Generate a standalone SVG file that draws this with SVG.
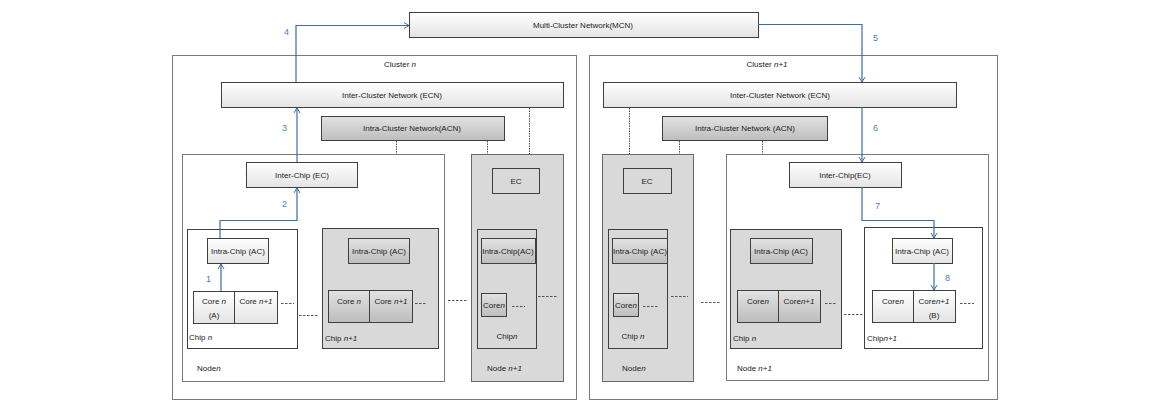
<svg xmlns="http://www.w3.org/2000/svg" width="1171" height="402" viewBox="0 0 1171 402">
<defs>
<linearGradient id="gw" x1="0" y1="0" x2="0" y2="1"><stop offset="0" stop-color="#ffffff"/><stop offset="1" stop-color="#e4e4e4"/></linearGradient>
<linearGradient id="gg" x1="0" y1="0" x2="0" y2="1"><stop offset="0" stop-color="#e2e2e2"/><stop offset="1" stop-color="#bdbdbd"/></linearGradient>
<marker id="ah" markerWidth="8" markerHeight="8" refX="6" refY="4" orient="auto" markerUnits="userSpaceOnUse"><path d="M1,1 L6,4 L1,7" fill="none" stroke="#3b6ea5" stroke-width="1"/></marker>
<style>
text{font-family:"Liberation Sans",Arial,sans-serif;font-size:8px;fill:#222}
.c{text-anchor:middle}
.i{font-style:italic}
.box{stroke:#3f3f3f;stroke-width:1}
.w{fill:url(#gw)}
.g{fill:url(#gg)}
.frame{fill:#fff;stroke:#7a7a7a;stroke-width:1}
.gnode{fill:#d9d9d9;stroke:#6a6a6a;stroke-width:1}
.chipw{fill:#fff;stroke:#3f3f3f;stroke-width:1}
.chipg{fill:#d9d9d9;stroke:#3f3f3f;stroke-width:1}
.dash{stroke:#555;stroke-width:1;stroke-dasharray:2.5,1.5;fill:none}
.vd{stroke:#555;stroke-width:1;stroke-dasharray:1.5,1;fill:none}
.arr{stroke:#3b6ea5;stroke-width:1.2;fill:none;marker-end:url(#ah)}
.num{fill:#4a7ebb;font-size:9px}
</style>
</defs>
<rect width="1171" height="402" fill="#fff"/>

<g id="clusterN">
<rect class="frame" x="172.5" y="55.5" width="404" height="344"/>
<text class="c" x="400" y="67">Cluster <tspan class="i">n</tspan></text>
</g>
<g id="clusterN1">
<rect class="frame" x="589.5" y="55.5" width="408" height="344"/>
<text class="c" x="767" y="67">Cluster <tspan class="i">n+1</tspan></text>
</g>

<g id="mcn">
<rect class="box w" x="409.5" y="12.5" width="349" height="25"/>
<text class="c" x="583" y="28">Multi-Cluster Network(MCN)</text>
</g>

<g id="ecnN">
<rect class="box w" x="221.5" y="82.5" width="342" height="25"/>
<text class="c" x="392" y="98">Inter-Cluster Network (ECN)</text>
</g>
<g id="acnN">
<rect class="box g" x="321.5" y="116.5" width="183" height="24"/>
<text class="c" x="412" y="131">Intra-Cluster Network(ACN)</text>
</g>
<g id="ecnN1">
<rect class="box w" x="603.5" y="82.5" width="353" height="25"/>
<text class="c" x="780" y="98">Inter-Cluster Network (ECN)</text>
</g>
<g id="acnN1">
<rect class="box g" x="662.5" y="116.5" width="165" height="24"/>
<text class="c" x="745" y="131">Intra-Cluster Network (ACN)</text>
</g>

<!-- Cluster n, Node n -->
<g id="c1-nodeN">
<rect class="frame" x="182.5" y="154.5" width="262" height="227"/>
<text x="197" y="371">Node<tspan class="i">n</tspan></text>
<rect class="box w" x="246.5" y="162.5" width="111" height="25"/>
<text class="c" x="302" y="178">Inter-Chip (EC)</text>
</g>
<g id="c1-nodeN-chipN">
<rect class="chipw" x="187.5" y="229.5" width="110" height="119"/>
<rect class="box w" x="207.5" y="238.5" width="61" height="25"/>
<text class="c" x="238" y="254">Intra-Chip (AC)</text>
<rect class="box w" x="193.5" y="291.5" width="41" height="32"/>
<rect class="box w" x="234.5" y="291.5" width="43" height="32"/>
<text class="c" x="214" y="304">Core <tspan class="i">n</tspan></text>
<text class="c" x="214" y="318">(A)</text>
<text class="c" x="256" y="304">Core <tspan class="i">n+1</tspan></text>
<text x="189" y="340">Chip <tspan class="i">n</tspan></text>
</g>
<g id="c1-nodeN-chipN1">
<rect class="chipg" x="322.5" y="228.5" width="116" height="120"/>
<rect class="box g" x="348.5" y="238.5" width="61" height="25"/>
<text class="c" x="379" y="254">Intra-Chip (AC)</text>
<rect class="box g" x="328.5" y="290.5" width="41" height="32"/>
<rect class="box g" x="369.5" y="290.5" width="43" height="32"/>
<text class="c" x="349" y="304">Core <tspan class="i">n</tspan></text>
<text class="c" x="391" y="304">Core <tspan class="i">n+1</tspan></text>
<text x="325" y="341">Chip <tspan class="i">n+1</tspan></text>
</g>

<!-- Cluster n, Node n+1 -->
<g id="c1-nodeN1">
<rect class="gnode" x="471.5" y="154.5" width="92" height="227"/>
<text x="487" y="371">Node <tspan class="i">n+1</tspan></text>
<rect class="box" fill="#d9d9d9" x="492.5" y="168.5" width="47" height="25"/>
<text class="c" x="516" y="184">EC</text>
<rect class="chipg" x="477.5" y="229.5" width="59" height="119"/>
<rect class="box g" x="481.5" y="238.5" width="54" height="25"/>
<text class="c" x="508" y="254">Intra-Chip(AC)</text>
<rect class="box g" x="481.5" y="293.5" width="25" height="23"/>
<text class="c" x="494" y="308">Core<tspan class="i">n</tspan></text>
<text class="c" x="507" y="339">Chip<tspan class="i">n</tspan></text>
</g>

<!-- Cluster n+1, Node n -->
<g id="c2-nodeN">
<rect class="gnode" x="602.5" y="154.5" width="91" height="227"/>
<text x="622" y="371">Node<tspan class="i">n</tspan></text>
<rect class="box" fill="#d9d9d9" x="623.5" y="168.5" width="48" height="25"/>
<text class="c" x="647" y="184">EC</text>
<rect class="chipg" x="608.5" y="229.5" width="59" height="119"/>
<rect class="box g" x="612.5" y="238.5" width="55" height="25"/>
<text class="c" x="640" y="254">Intra-Chip (AC)</text>
<rect class="box g" x="613.5" y="293.5" width="25" height="23"/>
<text class="c" x="626" y="308">Core<tspan class="i">n</tspan></text>
<text class="c" x="633" y="339">Chip <tspan class="i">n</tspan></text>
</g>

<!-- Cluster n+1, Node n+1 -->
<g id="c2-nodeN1">
<rect class="frame" x="726.5" y="154.5" width="262" height="226"/>
<text x="737" y="371">Node <tspan class="i">n+1</tspan></text>
<rect class="box w" x="789.5" y="162.5" width="112" height="25"/>
<text class="c" x="845" y="178">Inter-Chip(EC)</text>
</g>
<g id="c2-nodeN1-chipN">
<rect class="chipg" x="730.5" y="229.5" width="111" height="119"/>
<rect class="box g" x="750.5" y="238.5" width="62" height="25"/>
<text class="c" x="781" y="254">Intra-Chip (AC)</text>
<rect class="box g" x="737.5" y="290.5" width="41" height="32"/>
<rect class="box g" x="778.5" y="290.5" width="42" height="32"/>
<text class="c" x="758" y="304">Core<tspan class="i">n</tspan></text>
<text class="c" x="799" y="304">Core<tspan class="i">n+1</tspan></text>
<text x="733" y="341">Chip <tspan class="i">n</tspan></text>
</g>
<g id="c2-nodeN1-chipN1">
<rect class="chipw" x="864.5" y="227.5" width="118" height="121"/>
<rect class="box w" x="892.5" y="238.5" width="60" height="25"/>
<text class="c" x="922" y="254">Intra-Chip (AC)</text>
<rect class="box w" x="872.5" y="290.5" width="41" height="32"/>
<rect class="box w" x="913.5" y="290.5" width="42" height="32"/>
<text class="c" x="893" y="304">Core<tspan class="i">n</tspan></text>
<text class="c" x="934" y="304">Core<tspan class="i">n+1</tspan></text>
<text class="c" x="934" y="318">(B)</text>
<text x="867" y="341">Chip<tspan class="i">n+1</tspan></text>
</g>

<g id="connectors">
<!-- dotted links between network levels -->
<path class="vd" d="M396.5,141 V154 M487.5,141 V154 M529.5,108 V154 M629.5,108 V154 M679.5,141 V154 M762.5,141 V154"/>
<!-- ellipsis dashes -->
<path class="dash" d="M281,303.5 H294 M299,315.5 H319 M415,303.5 H427 M448,300.5 H467 M512,306.5 H525 M538,296.5 H558 M643,306.5 H658 M671,296.5 H688 M701,302.5 H720 M825,303.5 H837 M844,314.5 H863 M960,303.5 H974"/>
<!-- numbered route -->
<path class="arr" d="M221,291 V264"/>
<path class="arr" d="M220,238 V220.5 H297 V188"/>
<path class="arr" d="M297,162 V108"/>
<path class="arr" d="M296,82 V25.5 H409"/>
<path class="arr" d="M758,24.5 H862 V82"/>
<path class="arr" d="M862,107 V162"/>
<path class="arr" d="M862,187 V220.5 H934 V238"/>
<path class="arr" d="M934,263 V290"/>
<text class="num" x="206" y="282">1</text>
<text class="num" x="282" y="207">2</text>
<text class="num" x="282" y="131">3</text>
<text class="num" x="284" y="35">4</text>
<text class="num" x="873" y="41">5</text>
<text class="num" x="873" y="131">6</text>
<text class="num" x="875" y="209">7</text>
<text class="num" x="945" y="281">8</text>
</g>
</svg>
